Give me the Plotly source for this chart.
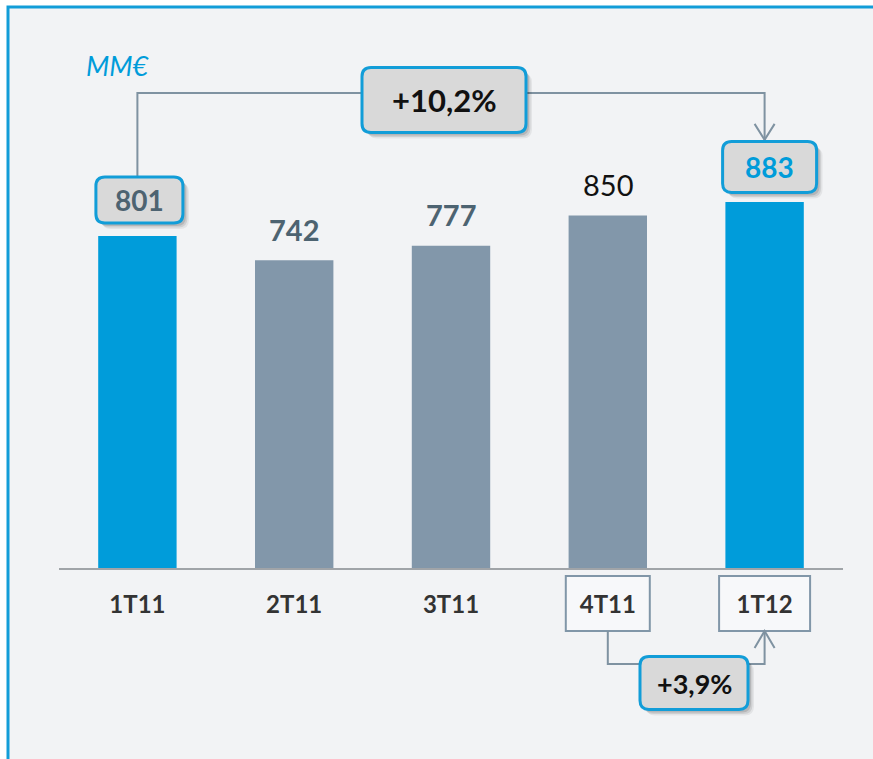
import plotly.graph_objects as go

# ---- data ----
categories = ["1T11", "2T11", "3T11", "4T11", "1T12"]
values = [801, 742, 777, 850, 883]
highlight = [True, False, False, False, True]
unit_label = "MM€"
yoy_label = "+10,2%"
qoq_label = "+3,9%"

# ---- styling ----
W, H = 873, 759
ML, MR, MT, MB = 59, 30, 29, 191
YMAX = 1300
BLUE = "#009CDA"
GREY_BAR = "#8297AA"
VAL_COL = "#4D6371"
CONN = "#7F92A1"
BOX_FILL = "#D9D9D9"
BOX_LINE = "#129DD8"
BG = "#F2F3F5"
FONT = "Lato"

PW = W - ML - MR
PH = H - MT - MB
n = len(categories)


def cx(i):  # pixel x of category centre
    return ML + (i + 0.5) * PW / n


def vy(v):  # pixel y of a value
    return MT + PH - v * PH / YMAX


def PX(p):
    return (p - ML) / PW


def PY(p):
    return (MT + PH - p) / PH


def rrect_path(x0, y0, x1, y1, r):
    pts = [
        ("M", [(x0 + r, y0)]), ("L", [(x1 - r, y0)]), ("Q", [(x1, y0), (x1, y0 + r)]),
        ("L", [(x1, y1 - r)]), ("Q", [(x1, y1), (x1 - r, y1)]), ("L", [(x0 + r, y1)]),
        ("Q", [(x0, y1), (x0, y1 - r)]), ("L", [(x0, y0 + r)]), ("Q", [(x0, y0), (x0 + r, y0)]),
    ]
    s = ""
    for cmd, ps in pts:
        s += cmd + " " + " ".join(f"{PX(a):.5f},{PY(b):.5f}" for a, b in ps) + " "
    return s + "Z"


shapes = []
annotations = []


def poly(points, color=CONN, width=2, layer="above"):
    s = "M " + " L ".join(f"{PX(a):.5f},{PY(b):.5f}" for a, b in points)
    shapes.append(dict(type="path", xref="paper", yref="paper", path=s,
                       line=dict(color=color, width=width), layer=layer))


# outer frame: white margin above/left, blue edge on top and left only
for x0, y0, x1, y1 in [(0, 0, W, 6), (0, 0, 8, H)]:
    shapes.append(dict(type="rect", xref="paper", yref="paper",
                       x0=PX(x0), x1=PX(x1), y0=PY(y0), y1=PY(y1),
                       fillcolor="white", line=dict(width=0), layer="below"))
poly([(8, H), (8, 7), (W, 7)], color=BOX_LINE, width=3, layer="below")


def callout(xc, yc, w, h, text, color, size):
    x0, x1, y0, y1 = xc - w / 2, xc + w / 2, yc - h / 2, yc + h / 2
    for off, op in [(6, 0.06), (4.5, 0.09), (3, 0.12)]:
        shapes.append(dict(type="path", xref="paper", yref="paper",
                           path=rrect_path(x0 + off, y0 + off, x1 + off, y1 + off, 9),
                           fillcolor=f"rgba(0,0,0,{op})", line=dict(width=0)))
    shapes.append(dict(type="path", xref="paper", yref="paper",
                       path=rrect_path(x0, y0, x1, y1, 9),
                       fillcolor=BOX_FILL, line=dict(color=BOX_LINE, width=3)))
    annotations.append(dict(xref="paper", yref="paper", x=PX(xc), y=PY(yc),
                            text=f"<b>{text}</b>", showarrow=False,
                            font=dict(family=FONT, size=size, color=color),
                            xanchor="center", yanchor="middle"))


# top connector 1T11 -> 1T12
i0, i1 = 0, n - 1
box0_yc = vy(values[i0]) - 36
box1_yc = vy(values[i1]) - 35
top_line_y = 93
poly([(cx(i0), box0_yc - 23), (cx(i0), top_line_y), (cx(i1), top_line_y), (cx(i1), box1_yc - 27)])
poly([(cx(i1) - 10, box1_yc - 43), (cx(i1), box1_yc - 27), (cx(i1) + 10, box1_yc - 43)])

# lower connector 4T11 -> 1T12
i3 = 3
cat_box_top, cat_box_bot = 576, 631
low_y = 664
poly([(cx(i3), cat_box_bot), (cx(i3), low_y), (cx(i1), low_y), (cx(i1), cat_box_bot)])
poly([(cx(i1) - 10, cat_box_bot + 17), (cx(i1), cat_box_bot), (cx(i1) + 10, cat_box_bot + 17)])

# category outline boxes
for i, w in [(i3, 84), (i1, 91)]:
    shapes.append(dict(type="rect", xref="paper", yref="paper",
                       x0=PX(cx(i) - w / 2), x1=PX(cx(i) + w / 2),
                       y0=PY(cat_box_top), y1=PY(cat_box_bot),
                       fillcolor="#F7F8FA", line=dict(color="#8196A8", width=2), layer="below"))

# callouts
callout((cx(i0) + cx(i1)) / 2 - 7, 100, 164, 65, yoy_label, "#111111", 31)
callout(694, 683, 108, 53, qoq_label, "#111111", 27)
callout(cx(i0) + 2, box0_yc, 87, 46, str(values[i0]), VAL_COL, 28)
callout(cx(i1) + 5, box1_yc, 94, 51, str(values[i1]), BLUE, 28)

# value labels for non-highlighted bars
for i, (c, v) in enumerate(zip(categories, values)):
    if highlight[i]:
        continue
    bold = i != 3
    annotations.append(dict(x=c, y=v, xref="x", yref="y",
                            text=f"<b>{v}</b>" if bold else str(v), showarrow=False,
                            yanchor="middle", yshift=31,
                            font=dict(family=FONT, size=29,
                                      color=VAL_COL if bold else "#111111")))

# unit label
annotations.append(dict(xref="paper", yref="paper", x=PX(118), y=PY(66), text=f"<i>{unit_label}</i>",
                        showarrow=False, xanchor="center", yanchor="middle",
                        font=dict(family=FONT, size=27, color=BLUE)))

fig = go.Figure(go.Bar(
    x=categories, y=values, width=0.5,
    marker=dict(color=[BLUE if h else GREY_BAR for h in highlight], line=dict(width=0)),
    hoverinfo="x+y",
))

fig.update_layout(
    width=W, height=H,
    margin=dict(l=ML, r=MR, t=MT, b=MB, pad=0),
    paper_bgcolor=BG, plot_bgcolor="rgba(0,0,0,0)",
    showlegend=False, shapes=shapes, annotations=annotations,
    font=dict(family=FONT),
    xaxis=dict(range=[-0.5, n - 0.5], showline=True, linecolor="#A0A4A8", linewidth=2,
               showgrid=False, zeroline=False, ticks="outside", ticklen=14,
               tickcolor="rgba(0,0,0,0)",
               tickfont=dict(family=FONT, size=24, color="#333333"),
               tickvals=categories, ticktext=[f"<b>{c}</b>" for c in categories]),
    yaxis=dict(range=[0, YMAX], visible=False, showgrid=False, zeroline=False),
)

fig.write_html("out.html", config={"displayModeBar": False},
               post_script="document.body.style.margin='0';document.body.style.overflow='hidden';"
                           "document.documentElement.style.overflow='hidden';")
